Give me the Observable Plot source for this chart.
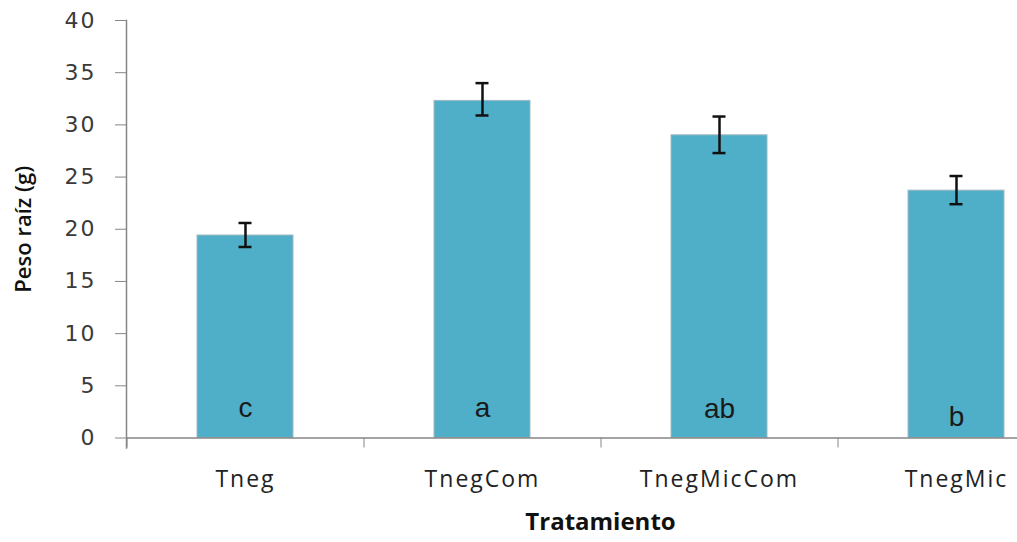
<!DOCTYPE html>
<html>
<head>
<meta charset="utf-8">
<script src="https://cdn.jsdelivr.net/npm/d3@7"></script>
<script src="https://cdn.jsdelivr.net/npm/@observablehq/plot@0.6"></script>
<style>
  html, body { margin: 0; padding: 0; background: #fff; overflow: hidden; }
  #wrap { width: 1017px; height: 542px; overflow: hidden; }
  .ytick text { letter-spacing: 2px; }
  .xlab text { letter-spacing: 2px; }
</style>
</head>
<body>
<div id="wrap"></div>
<script>
const categories = ["Tneg", "TnegCom", "TnegMicCom", "TnegMic"];
const means = [19.4, 32.3, 29.0, 23.7];
const errLow = [18.3, 30.9, 27.3, 22.4];
const errHigh = [20.6, 34.0, 30.8, 25.1];
const letters = ["c", "a", "ab", "b"];
const letterY = [2.9, 2.9, 2.8, 2.0];
const yTicks = [0, 5, 10, 15, 20, 25, 30, 35, 40];

const data = categories.map((c, i) => ({
  cat: c, mean: means[i], lo: errLow[i], hi: errHigh[i], letter: letters[i], ly: letterY[i]
}));

const axisColor = "#868686";

const chart = Plot.plot({
  width: 1074,
  height: 542,
  marginLeft: 126,
  marginRight: 0,
  marginTop: 20,
  marginBottom: 104.5,
  style: { maxWidth: "none", background: "#fff", overflow: "hidden" },
  x: { domain: categories, paddingInner: 0.595, paddingOuter: 0.2975, align: 0.5 },
  y: { domain: [0, 40] },
  marks: [
    Plot.barY(data, { x: "cat", y: "mean", fill: "#4faec8", stroke: "#a3b9c0", strokeWidth: 1 }),
    Plot.ruleY([0], { stroke: axisColor, strokeWidth: 1.5 }),
    Plot.frame({ anchor: "left", stroke: axisColor, strokeWidth: 1.5, insetBottom: -10 }),
    Plot.axisY({
      ticks: yTicks, tickSize: 11, tickPadding: 19, stroke: axisColor,
      fontSize: 22, fontFamily: "DejaVu Sans", fill: "#3a3a3a", label: null,
      className: "ytick"
    }),
    Plot.axisX({
      tickSize: 10, tickFormat: () => "", dx: -118.5, stroke: axisColor, label: null
    }),
    Plot.axisX({
      tickSize: 0, tickPadding: 33, fontSize: 23, fontFamily: "Open Sans", fill: "#222",
      label: null, className: "xlab"
    }),
    Plot.ruleX(data, { x: "cat", y1: "lo", y2: "hi", stroke: "#111", strokeWidth: 2.5 }),
    Plot.tickY(data, { x: "cat", y: "lo", stroke: "#111", strokeWidth: 2.5, insetLeft: 41.5, insetRight: 41.5 }),
    Plot.tickY(data, { x: "cat", y: "hi", stroke: "#111", strokeWidth: 2.5, insetLeft: 41.5, insetRight: 41.5 }),
    Plot.text(data, { x: "cat", y: "ly", text: "letter", fontSize: 28, fontFamily: "Liberation Sans", fill: "#1a1a1a" }),
    Plot.text(["Peso raíz (g)"], {
      frameAnchor: "left", textAnchor: "middle", text: d => d, rotate: -90, dx: -103,
      fontSize: 22, fontFamily: "Open Sans", fontWeight: 600, fill: "#111"
    }),
    Plot.text(["Tratamiento"], {
      frameAnchor: "bottom", text: d => d, dy: 92,
      fontSize: 24, fontFamily: "Open Sans", fontWeight: 700, fill: "#111", style: "letter-spacing:2px"
    })
  ]
});
document.getElementById("wrap").appendChild(chart);
</script>
</body>
</html>
